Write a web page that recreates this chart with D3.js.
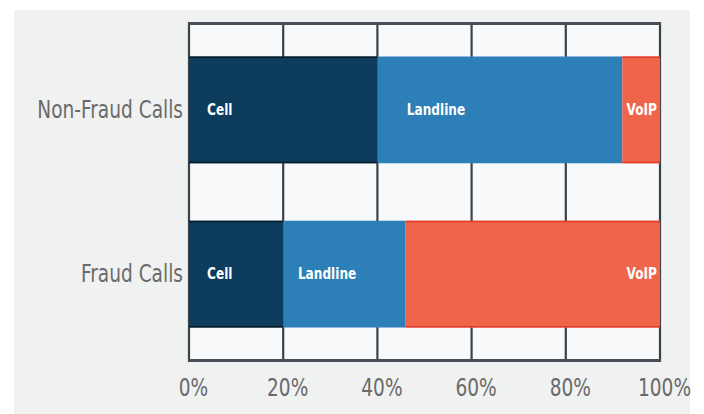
<!DOCTYPE html>
<html><head><meta charset="utf-8">
<script src="https://cdn.jsdelivr.net/npm/d3@7"></script>
<style>body{margin:0;background:#fff}svg{display:block}</style>
</head><body>
<svg id="c" width="704" height="414"></svg>
<script>
const categories = ["Non-Fraud Calls", "Fraud Calls"];
const segments = ["Cell", "Landline", "VoIP"];
const cellValues = [40, 20];
const landlineValues = [52, 26];
const voipValues = [8, 54];
const tickValues = [0, 20, 40, 60, 80, 100];
const colors = ["#0e3c5c", "#2d7fb7", "#ef654a"];

const svg = d3.select("#c");
const M = {l:189, r:660, t:22, b:362};
const font = "'DejaVu Sans Condensed','Liberation Sans Narrow','DejaVu Sans',sans-serif";

svg.append("rect").attr("x",14).attr("y",10).attr("width",676).attr("height",404).attr("fill","#f0f1f1");

const x = d3.scaleLinear().domain([0,100]).range([M.l, M.r]);
const y = d3.scaleBand().domain(categories).range([M.t, M.b]).paddingInner(0.35).paddingOuter(0.21);

svg.append("rect").attr("x",M.l).attr("y",M.t).attr("width",M.r-M.l).attr("height",M.b-M.t).attr("fill","#f9fafb");

svg.append("g").selectAll("line").data(tickValues).join("line")
  .attr("x1",d=>x(d)).attr("x2",d=>x(d)).attr("y1",M.t).attr("y2",M.b)
  .attr("stroke","#3e4248").attr("stroke-width",2.2);

const rows = categories.map((c,i)=>({cat:c, vals:[cellValues[i], landlineValues[i], voipValues[i]]}));
rows.forEach(r=>{
  let acc = 0;
  r.segs = r.vals.map((v,j)=>{const s={cat:r.cat, name:segments[j], x0:acc, x1:acc+v, j}; acc+=v; return s;});
});
const segs = rows.flatMap(r=>r.segs);

svg.append("g").selectAll("rect").data(segs).join("rect")
  .attr("x",d=>x(d.x0)).attr("width",d=>x(d.x1)-x(d.x0))
  .attr("y",d=>y(d.cat)).attr("height",y.bandwidth())
  .attr("fill",d=>colors[d.j]);

const edgeColor = d=>d.j===2?"#e23b2c":"#0a1a28";
svg.append("g").selectAll("line").data(segs.filter(d=>d.j!==1)).join("line")
  .attr("x1",d=>x(d.x0)).attr("x2",d=>x(d.x1))
  .attr("y1",d=>y(d.cat)+0.75).attr("y2",d=>y(d.cat)+0.75)
  .attr("stroke",edgeColor).attr("stroke-width",1.5);
svg.append("g").selectAll("line").data(segs.filter(d=>d.j!==1)).join("line")
  .attr("x1",d=>x(d.x0)).attr("x2",d=>x(d.x1))
  .attr("y1",d=>y(d.cat)+y.bandwidth()-0.75).attr("y2",d=>y(d.cat)+y.bandwidth()-0.75)
  .attr("stroke",edgeColor).attr("stroke-width",1.5);

svg.append("line").attr("x1",M.l-1).attr("x2",M.r+1).attr("y1",M.t+1.5).attr("y2",M.t+1.5).attr("stroke","#4a4d55").attr("stroke-width",3);
svg.append("line").attr("x1",M.l-1).attr("x2",M.r+1).attr("y1",M.b-1.5).attr("y2",M.b-1.5).attr("stroke","#4a4d55").attr("stroke-width",3);

// segment labels (condensed via horizontal scale)
const SX = 0.9;
svg.append("g").selectAll("text").data(segs).join("text")
  .attr("transform",d=>{
    const w = x(d.x1)-x(d.x0);
    let px;
    if (d.j===2) px = x(d.x1)-3;
    else if (d.j===0) px = x(d.x0)+18;
    else px = x(d.x0)+Math.min(32, w*0.12);
    return `translate(${px},${y(d.cat)+y.bandwidth()/2+5}) scale(${SX},1)`;
  })
  .attr("text-anchor",d=>d.j===2?"end":"start")
  .attr("fill","#fff").attr("font-family",font).attr("font-weight","bold").attr("font-size",15)
  .text(d=>d.name);

// category labels
const LX = 0.86;
svg.append("g").selectAll("text").data(categories).join("text")
  .attr("transform",d=>`translate(${M.l-6},${y(d)+y.bandwidth()/2+8}) scale(${LX},1)`)
  .attr("text-anchor","end")
  .attr("fill","#6a6a6a").attr("font-family",font).attr("font-size",24)
  .text(d=>d);

// x axis
const ax = svg.append("g").attr("transform",`translate(0,${M.b})`)
  .call(d3.axisBottom(x).tickValues(tickValues).tickFormat(d=>d+"%").tickSize(0).tickPadding(0));
ax.select(".domain").remove();
ax.selectAll(".tick text")
  .attr("y",0).attr("dy",0)
  .attr("transform",`translate(4,34) scale(${LX},1)`)
  .attr("fill","#6a6a6a").attr("font-family",font).attr("font-size",24);
</script>
</body></html>
